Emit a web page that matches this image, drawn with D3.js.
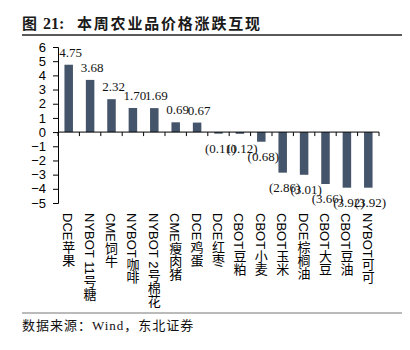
<!DOCTYPE html>
<html>
<head>
<meta charset="utf-8">
<script src="https://cdn.jsdelivr.net/npm/d3@7"></script>
<style>
body { margin: 0; background: #fff; }
svg { display: block; }
</style>
</head>
<body>
<div id="chart-area"></div>
<script>
var categories = ["DCE苹果", "NYBOT 11号糖", "CME饲牛", "NYBOT咖啡", "NYBOT 2号棉花", "CME瘦肉猪", "DCE鸡蛋",
  "DCE红枣", "CBOT豆粕", "CBOT小麦", "CBOT玉米", "DCE棕榈油", "CBOT大豆", "CBOT豆油", "NYBOT可可"];
var changes = [4.75, 3.68, 2.32, 1.70, 1.69, 0.69, 0.67, -0.11, -0.12, -0.68, -2.86, -3.01, -3.66, -3.92, -3.92];
var yTicks = [6, 5, 4, 3, 2, 1, 0, -1, -2, -3, -4, -5];

var W = 410, H = 350;
var margin = {left: 58, top: 47};
var plotW = 321, plotH = 156;

var svg = d3.select("#chart-area").append("svg")
  .attr("width", W)
  .attr("height", H);

// title
var title = svg.append("text")
  .attr("x", 22)
  .attr("y", 28.5)
  .attr("font-size", "15px")
  .attr("font-weight", "bold")
  .attr("fill", "#1a1a1a");
title.append("tspan").attr("font-family", "Noto Sans CJK SC").text("图");
title.append("tspan").attr("x", 43).attr("font-family", "Liberation Serif").attr("font-size", "16px").text("21:");
svg.append("text")
  .attr("x", 77)
  .attr("y", 28.5)
  .attr("font-size", "15px")
  .attr("font-weight", "bold")
  .attr("letter-spacing", "1.8px")
  .attr("font-family", "Noto Sans CJK SC")
  .attr("fill", "#1a1a1a")
  .text("本周农业品价格涨跌互现");
svg.append("line")
  .attr("x1", 22).attr("x2", 402)
  .attr("y1", 35).attr("y2", 35)
  .attr("stroke", "#222").attr("stroke-width", 1.5);

var g = svg.append("g")
  .attr("transform", "translate(" + margin.left + "," + margin.top + ")");

var xb = d3.scaleBand().domain(categories).range([0, plotW]);
var y = d3.scaleLinear().domain([-5, 6]).range([plotH, 0]);

// y axis
var yAxis = g.append("g")
  .call(d3.axisLeft(y).tickValues(yTicks).tickSize(5).tickPadding(7).tickFormat(d3.format("d")));
yAxis.select(".domain").attr("stroke", "#000");
yAxis.selectAll(".tick line").attr("stroke", "#000");
yAxis.selectAll("text")
  .attr("font-family", "Liberation Sans, Arial, sans-serif")
  .attr("font-size", "13px")
  .attr("fill", "#000");

// bars
g.selectAll("rect.bar")
  .data(changes)
  .enter().append("rect")
  .attr("class", "bar")
  .attr("x", function(d, i) { return xb(categories[i]) + (xb.bandwidth() - 8.5) / 2; })
  .attr("width", 8.5)
  .attr("y", function(d) { return d >= 0 ? y(d) : y(0); })
  .attr("height", function(d) { return Math.abs(y(d) - y(0)); })
  .attr("fill", "#44546a");

// zero axis with category ticks
g.append("line")
  .attr("x1", 0).attr("x2", plotW)
  .attr("y1", y(0)).attr("y2", y(0))
  .attr("stroke", "#000");
g.selectAll("line.xtick")
  .data(categories.concat(["end"]))
  .enter().append("line")
  .attr("class", "xtick")
  .attr("x1", function(d, i) { return i * xb.step(); })
  .attr("x2", function(d, i) { return i * xb.step(); })
  .attr("y1", y(0)).attr("y2", y(0) + 4)
  .attr("stroke", "#000");

// value labels
var fmt = d3.format(".2f");
g.selectAll("text.val")
  .data(changes)
  .enter().append("text")
  .attr("class", "val")
  .attr("x", function(d, i) { return xb(categories[i]) + xb.bandwidth() / 2 + 2; })
  .attr("y", function(d) { return d >= 0 ? y(d) - 8 : y(d) + 19; })
  .attr("text-anchor", "middle")
  .attr("font-family", "Liberation Serif, Times New Roman, serif")
  .attr("font-size", "13px")
  .attr("fill", "#111")
  .text(function(d) { return d >= 0 ? fmt(d) : "(" + fmt(-d) + ")"; });

// category labels, vertical
g.selectAll("text.cat")
  .data(categories)
  .enter().append("text")
  .attr("class", "cat")
  .attr("x", function(d) { return xb(d) + xb.bandwidth() / 2 - 1; })
  .attr("y", plotH + 10)
  .style("writing-mode", "vertical-rl")
  .attr("font-family", "Liberation Sans, Noto Sans CJK SC, sans-serif")
  .attr("font-size", "13px")
  .attr("fill", "#000")
  .text(function(d) { return d; });

// footer
svg.append("line")
  .attr("x1", 22).attr("x2", 402)
  .attr("y1", 313).attr("y2", 313)
  .attr("stroke", "#777").attr("stroke-width", 1);
svg.append("text")
  .attr("x", 22)
  .attr("y", 330)
  .attr("font-family", "Liberation Serif, Noto Sans CJK SC, serif")
  .attr("font-size", "13px")
  .attr("letter-spacing", "1px")
  .attr("fill", "#111")
  .text("数据来源：Wind，东北证券");
</script>
</body>
</html>
